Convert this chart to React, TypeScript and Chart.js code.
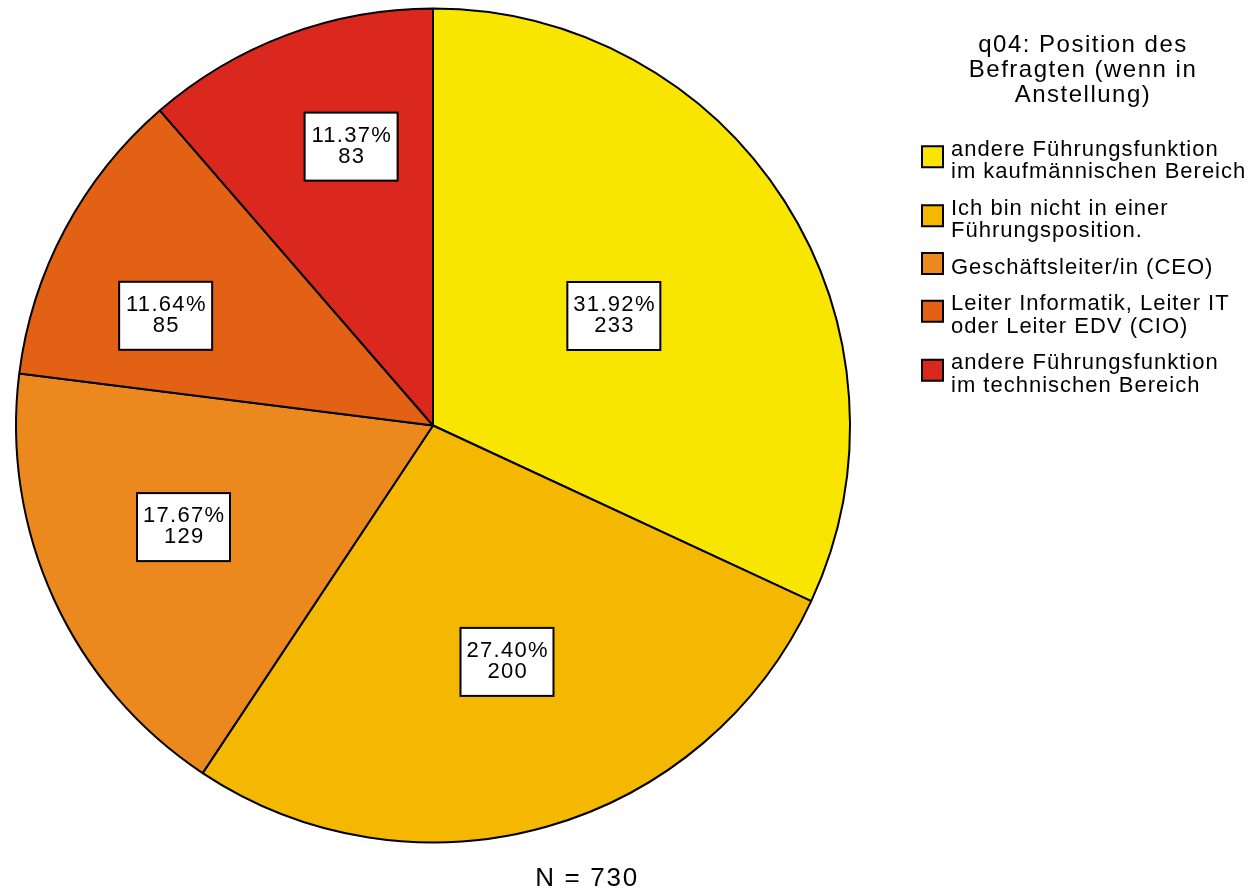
import React, { useEffect, useRef } from "react";
import { Chart, registerables } from "chart.js";

Chart.register(...registerables);

const categories: string[][] = [
  ["andere Führungsfunktion", "im kaufmännischen Bereich"],
  ["Ich bin nicht in einer", "Führungsposition."],
  ["Geschäftsleiter/in (CEO)"],
  ["Leiter Informatik, Leiter IT", "oder Leiter EDV (CIO)"],
  ["andere Führungsfunktion", "im technischen Bereich"],
];
const counts: number[] = [233, 200, 129, 85, 83];
const colors: string[] = ["#F9E600", "#F5B800", "#EB891E", "#E26115", "#DA281E"];
const legendTitle: string[] = ["q04: Position des", "Befragten (wenn in", "Anstellung)"];
const footnote = "N = 730";

// label placement (fraction of radius, angular nudge in degrees)
const labelRadius = [0.507, 0.594, 0.646, 0.693, 0.697];
const labelNudge = [1.35, -1.6, 2.5, -5.8, 4.1];

const FONT = '"Liberation Sans", Arial, Helvetica, sans-serif';

function capText(ctx: CanvasRenderingContext2D, text: string, x: number, capCenter: number, size: number) {
  ctx.font = `${size}px ${FONT}`;
  ctx.textBaseline = "alphabetic";
  ctx.fillText(text, x, capCenter + 0.358 * size);
}

const overlayPlugin = {
  id: "overlay",
  afterDatasetsDraw(chart: any) {
    const ctx: CanvasRenderingContext2D = chart.ctx;
    const meta = chart.getDatasetMeta(0);
    const total = counts.reduce((a, b) => a + b, 0);
    ctx.save();
    // slice labels
    (ctx as any).letterSpacing = "1.3px";
    meta.data.forEach((arc: any, i: number) => {
      const { x, y, startAngle, endAngle, outerRadius } = arc.getProps(
        ["x", "y", "startAngle", "endAngle", "outerRadius"],
        true
      );
      const mid = (startAngle + endAngle) / 2 + (labelNudge[i] * Math.PI) / 180;
      const r = outerRadius * labelRadius[i];
      const cx = x + Math.cos(mid) * r;
      const cy = y + Math.sin(mid) * r;
      const w = 93;
      const h = 68;
      ctx.fillStyle = "#fff";
      ctx.fillRect(cx - w / 2, cy - h / 2, w, h);
      ctx.lineWidth = 2;
      ctx.strokeStyle = "#000";
      ctx.strokeRect(cx - w / 2, cy - h / 2, w, h);
      ctx.fillStyle = "#000";
      ctx.textAlign = "center";
      const pct = ((counts[i] / total) * 100).toFixed(2) + "%";
      capText(ctx, pct, cx + 0.7, cy - 13, 22);
      capText(ctx, String(counts[i]), cx + 0.7, cy + 8, 22);
    });

    // legend title
    (ctx as any).letterSpacing = "1.5px";
    ctx.fillStyle = "#000";
    ctx.textAlign = "center";
    legendTitle.forEach((line, i) => {
      capText(ctx, line, 1083, 43 + i * 25, 24);
    });

    // legend items
    (ctx as any).letterSpacing = "1px";
    let y = 148;
    const lineGap = 22.5;
    categories.forEach((lines, i) => {
      const last = y + (lines.length - 1) * lineGap;
      const boxC = (y + last) / 2 - 2.5;
      ctx.fillStyle = colors[i];
      ctx.fillRect(922, boxC - 10.5, 21, 21);
      ctx.lineWidth = 2;
      ctx.strokeStyle = "#000";
      ctx.strokeRect(922, boxC - 10.5, 21, 21);
      ctx.fillStyle = "#000";
      ctx.textAlign = "left";
      lines.forEach((ln, j) => {
        capText(ctx, ln, 951, y + j * lineGap, 22);
      });
      y = last + lineGap + 14;
    });

    // footnote
    (ctx as any).letterSpacing = "1.7px";
    ctx.textAlign = "center";
    capText(ctx, footnote, 587, 877, 26);
    ctx.restore();
  },
};

export default function App() {
  const ref = useRef<HTMLCanvasElement>(null);
  useEffect(() => {
    if (!ref.current) return;
    const chart = new Chart(ref.current, {
      type: "pie",
      data: {
        labels: categories,
        datasets: [
          {
            data: counts,
            backgroundColor: colors,
            borderColor: "#000",
            borderWidth: 2,
          },
        ],
      },
      options: {
        responsive: false,
        animation: false,
        devicePixelRatio: 1,
        radius: 417,
        layout: { padding: { left: 0, top: 0, right: 386, bottom: 42 } },
        plugins: {
          legend: { display: false },
          tooltip: { enabled: false },
          title: { display: false },
        },
      },
      plugins: [overlayPlugin],
    });
    return () => chart.destroy();
  }, []);
  return (
    <div style={{ position: "absolute", left: 0, top: 0, width: 1252, height: 893, background: "#fff" }}>
      <canvas ref={ref} width={1252} height={893} style={{ width: 1252, height: 893 }} />
    </div>
  );
}
